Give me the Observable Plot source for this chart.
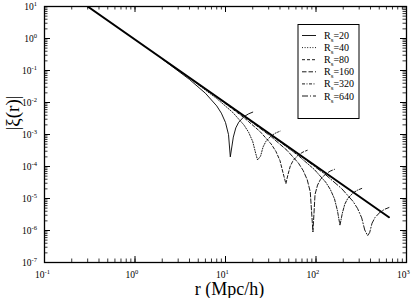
<!DOCTYPE html>
<html><head><meta charset="utf-8">
<script src="https://cdn.jsdelivr.net/npm/d3@7"></script>
<script src="https://cdn.jsdelivr.net/npm/@observablehq/plot@0.6"></script>
<style>body{margin:0;background:#fff}svg{display:block}</style>
</head><body><div id="chart"></div>
<script>
// ---- data ----
const rsValues = [20, 40, 80, 160, 320, 640];
const rsLabels = ["20", "40", "80", "160", "320", "640"];
const powerLawR = [0.3, 640];
const powerLawXi = [10, 2.6e-6];

const r20  = [2, 4, 6, 8, 9, 10, 10.8, 11.3, 12.2, 13, 14, 16, 18, 20];
const xi20 = [0.228, 0.0525, 0.01945, 0.00782, 0.00465, 0.00237, 9.89e-4, 2.0e-4, 8.28e-4, 1.61e-3, 2.42e-3, 3.60e-3, 4.42e-3, 5.00e-3];
const r40  = [4, 8, 12, 16, 18, 20, 21.6, 22.6, 24.4, 26, 28, 32, 36, 40];
const xi40 = [0.0578, 0.01331, 0.00493, 0.00198, 0.001179, 6.01e-4, 2.51e-4, 1.6e-4, 2.10e-4, 4.08e-4, 6.13e-4, 9.13e-4, 1.12e-3, 1.268e-3];
const r80  = [8, 16, 24, 32, 36, 40, 43.2, 46.5, 48.8, 52, 56, 64, 72, 80];
const xi80 = [0.01465, 0.003374, 0.00125, 5.02e-4, 2.99e-4, 1.524e-4, 6.36e-5, 2.9e-5, 5.32e-5, 1.034e-4, 1.554e-4, 2.31e-4, 2.84e-4, 3.21e-4];
const r160  = [16, 32, 48, 64, 72, 80, 86.4, 92.5, 97.6, 104, 112, 128, 144, 160];
const xi160 = [0.003714, 8.55e-4, 3.17e-4, 1.273e-4, 7.58e-5, 3.86e-5, 1.612e-5, 9e-7, 1.349e-5, 2.62e-5, 3.94e-5, 5.86e-5, 7.20e-5, 8.14e-5];
const r320  = [32, 64, 96, 128, 144, 160, 172.8, 184, 195.2, 208, 224, 256, 288, 320];
const xi320 = [9.41e-4, 2.17e-4, 8.04e-5, 3.23e-5, 1.92e-5, 9.79e-6, 4.09e-6, 1.45e-6, 3.42e-6, 6.64e-6, 9.99e-6, 1.486e-5, 1.825e-5, 2.06e-5];
const r640  = [64, 128, 192, 256, 288, 320, 345.6, 372, 392, 416, 448, 512, 576, 640];
const xi640 = [2.39e-4, 5.50e-5, 2.04e-5, 8.19e-6, 4.87e-6, 2.48e-6, 1.037e-6, 6.9e-7, 8.67e-7, 1.683e-6, 2.53e-6, 3.77e-6, 4.63e-6, 5.22e-6];

const xTickExps = ["-1", "0", "1", "2", "3"];
const yTickExps = ["-7", "-6", "-5", "-4", "-3", "-2", "-1", "0", "1"];
const xTitle = "r (Mpc/h)";
const yTitle = "|ξ(r)|";

// ---- styles ----
const dashes = [null, "1,1.6", "3,2", "4.5,2", "3,1.5,1,1.5", "6,2,1,2"];
const curveR = [r20, r40, r80, r160, r320, r640];
const curveXi = [xi20, xi40, xi80, xi160, xi320, xi640];

const W = 415, H = 298, mL = 44, mR = 9, mT = 6, mB = 36;
const pw = W - mL - mR, ph = H - mT - mB;

const xMajor = xTickExps.map(e => +("1e" + e));
const yMajor = yTickExps.map(e => +("1e" + e));
const xMinor = d3.scaleLog().domain([0.1, 1000]).ticks();
const yMinor = d3.scaleLog().domain([1e-7, 10]).ticks();

const curveMarks = rsValues.map((rs, i) =>
  Plot.line(d3.zip(curveR[i], curveXi[i]), {
    x: d => d[0], y: d => d[1], stroke: "black", strokeWidth: 0.9,
    strokeDasharray: dashes[i] || undefined, clip: true
  })
);

const svg = Plot.plot({
  width: W, height: H,
  marginLeft: mL, marginRight: mR, marginTop: mT, marginBottom: mB,
  style: {fontFamily: "'Liberation Serif', 'DejaVu Serif', serif", fontSize: "9.5px", background: "white", color: "black"},
  x: {type: "log", domain: [0.1, 1000], axis: null},
  y: {type: "log", domain: [1e-7, 10], axis: null},
  marks: [
    ...curveMarks,
    Plot.line(d3.zip(powerLawR, powerLawXi), {x: d => d[0], y: d => d[1], stroke: "black", strokeWidth: 2, clip: true}),
    // minor ticks (inward, all four sides)
    Plot.ruleX(xMinor, {x: d => d, insetTop: ph - 3.5, stroke: "black", strokeWidth: 0.8}),
    Plot.ruleX(xMinor, {x: d => d, insetBottom: ph - 3.5, stroke: "black", strokeWidth: 0.8}),
    Plot.ruleY(yMinor, {y: d => d, insetRight: pw - 3.5, stroke: "black", strokeWidth: 0.8}),
    Plot.ruleY(yMinor, {y: d => d, insetLeft: pw - 3.5, stroke: "black", strokeWidth: 0.8}),
    // major ticks
    Plot.ruleX(xMajor, {x: d => d, insetTop: ph - 6, stroke: "black", strokeWidth: 1}),
    Plot.ruleX(xMajor, {x: d => d, insetBottom: ph - 6, stroke: "black", strokeWidth: 1}),
    Plot.ruleY(yMajor, {y: d => d, insetRight: pw - 6, stroke: "black", strokeWidth: 1}),
    Plot.ruleY(yMajor, {y: d => d, insetLeft: pw - 6, stroke: "black", strokeWidth: 1}),
    Plot.frame({stroke: "black", strokeWidth: 1.3}),
    // tick labels
    Plot.text(xMajor, {x: d => d, text: (d, i) => "10^" + xTickExps[i], frameAnchor: "bottom", textAnchor: "start", lineAnchor: "middle", dx: -9.5, dy: 12.5, fill: "black"}),
    Plot.text(yMajor, {y: d => d, text: (d, i) => "10^" + yTickExps[i], frameAnchor: "left", textAnchor: "end", lineAnchor: "middle", dx: -7.5, fill: "black"}),
    // axis titles
    Plot.text([xTitle], {text: d => d, frameAnchor: "bottom", lineAnchor: "middle", dy: 27, dx: 4, fontSize: 18, fill: "black"}),
    Plot.text([yTitle], {text: d => d, frameAnchor: "left", rotate: -90, lineAnchor: "middle", dx: -32, dy: -4, fontSize: 19, fill: "black"})
  ]
});

// superscripts for tick labels
d3.select(svg).selectAll("text").each(function () {
  const s = this.textContent;
  if (s.indexOf("^") < 0) return;
  const parts = s.split("^");
  while (this.firstChild) this.removeChild(this.firstChild);
  const t = d3.select(this);
  t.append("tspan").text(parts[0]);
  t.append("tspan").attr("dy", -4).attr("font-size", 6.5).text(parts[1]);
});

// legend
const lg = d3.select(svg).append("g")
  .attr("font-family", "'Liberation Serif', 'DejaVu Serif', serif")
  .attr("font-size", 10).attr("text-anchor", "start");
lg.append("rect").attr("x", 298).attr("y", 24.5).attr("width", 61).attr("height", 94)
  .attr("fill", "white").attr("stroke", "black").attr("stroke-width", 1);
rsLabels.forEach((lab, i) => {
  const y = 35.5 + i * 12.1;
  const ln = lg.append("line").attr("x1", 302).attr("x2", 316).attr("y1", y).attr("y2", y)
    .attr("stroke", "black").attr("stroke-width", 0.9);
  if (dashes[i]) ln.attr("stroke-dasharray", dashes[i]);
  const t = lg.append("text").attr("x", 324).attr("y", y + 3.5).attr("fill", "black").attr("text-anchor", "start");
  t.append("tspan").text("R");
  t.append("tspan").attr("dy", 3).attr("font-size", 7).text("s");
  t.append("tspan").attr("dy", -3).text("=" + lab);
});

document.getElementById("chart").appendChild(svg);
</script>
</body></html>
